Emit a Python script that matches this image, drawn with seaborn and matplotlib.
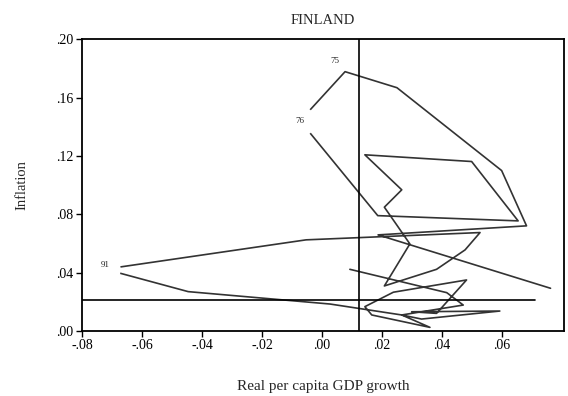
import matplotlib
matplotlib.use("Agg")
import matplotlib.pyplot as plt
import seaborn as sns
import pandas as pd

# Finland, one point per year (1970 -> 2008), growth on x, inflation on y
years = ["70", "71", "72", "73", "74", "75", "76", "78", "79", "80", "81", "82", "83",
         "84", "85", "86", "87", "88", "89", "90", "91", "92", "93", "94", "95", "97",
         "98", "99", "00", "01", "02", "03", "04", "05", "06", "07", "08"]
growth = [0.0762, 0.0187, 0.0682, 0.0599, 0.0250, 0.0077, -0.0073, 0.0186, 0.0654,
          0.0499, 0.0143, 0.0266, 0.0208, 0.0247, 0.0293, 0.0208, 0.0382, 0.0477,
          0.0527, -0.0053, -0.0723, -0.0446, 0.0027, 0.0266, 0.0332, 0.0593, 0.0299,
          0.0382, 0.0482, 0.0238, 0.0143, 0.0166, 0.0360, 0.0266, 0.0471, 0.0416, 0.0093]
inflation = [0.0293, 0.0659, 0.0721, 0.1100, 0.1668, 0.1778, 0.1441, 0.0791, 0.0755,
             0.1162, 0.1208, 0.0968, 0.0849, 0.0734, 0.0597, 0.0309, 0.0423, 0.0556,
             0.0675, 0.0625, 0.0424, 0.0270, 0.0185, 0.0110, 0.0082, 0.0137, 0.0132,
             0.0121, 0.0350, 0.0266, 0.0167, 0.0110, 0.0025, 0.0110, 0.0178, 0.0263, 0.0423]
shown = ["75", "76", "91"]
mean_growth = 0.0123
mean_inflation = 0.0210

xticks = [-0.08, -0.06, -0.04, -0.02, 0.00, 0.02, 0.04, 0.06]
yticks = [0.00, 0.04, 0.08, 0.12, 0.16, 0.20]

def fmt(v):
    return ("%.2f" % v).replace("0.", ".")

df = pd.DataFrame({"year": years, "growth": growth, "inflation": inflation})

sns.set_style("ticks")
plt.rcParams["font.family"] = ["Liberation Serif", "DejaVu Serif"]

fig = plt.figure(figsize=(5.68, 3.96), dpi=100)
ax = fig.add_axes([0.1444, 0.1641, 0.8486, 0.7367])

sns.lineplot(data=df, x="growth", y="inflation", sort=False, estimator=None,
             color="#333333", linewidth=1.2, ax=ax, zorder=2)

lab = df[df["year"].isin(shown)].set_index("year")
# white holes round 76 and 91 so the label sits in a gap
for y in ["76", "91"]:
    ax.scatter(lab.loc[y, "growth"], lab.loc[y, "inflation"], s=480, color="white",
               zorder=3, linewidths=0)
ax.text(lab.loc["76", "growth"], lab.loc["76", "inflation"], "76", fontsize=6.5,
        ha="center", va="center", zorder=4)
ax.text(lab.loc["91", "growth"], lab.loc["91", "inflation"] + 0.003, "91", fontsize=6.5,
        ha="center", va="center", zorder=4)
ax.text(lab.loc["75", "growth"] - 0.0034, lab.loc["75", "inflation"] + 0.007, "75",
        fontsize=6.5, ha="center", va="center", zorder=4)

ax.axvline(mean_growth, color="black", linewidth=1.2, zorder=2)
ax.plot([-0.08, 0.071], [mean_inflation, mean_inflation], color="black", linewidth=1.2, zorder=2)

ax.set_xlim(-0.08, 0.0807)
ax.set_ylim(0.0, 0.20)
ax.set_xticks(xticks)
ax.set_xticklabels([fmt(v) for v in xticks])
ax.set_yticks(yticks)
ax.set_yticklabels([fmt(v) for v in yticks])
ax.tick_params(axis="both", direction="out", length=4, width=1, labelsize=10, pad=2, colors="black")
for sp in ax.spines.values():
    sp.set_linewidth(1.3)
    sp.set_color("black")

ax.set_xlabel("Real per capita GDP growth", fontsize=11, labelpad=20)
ax.set_ylabel("Inflation", fontsize=10.5, labelpad=20)
ax.set_title("FINLAND", fontsize=10.5, pad=11)

fig.savefig("out.png", dpi=100)
